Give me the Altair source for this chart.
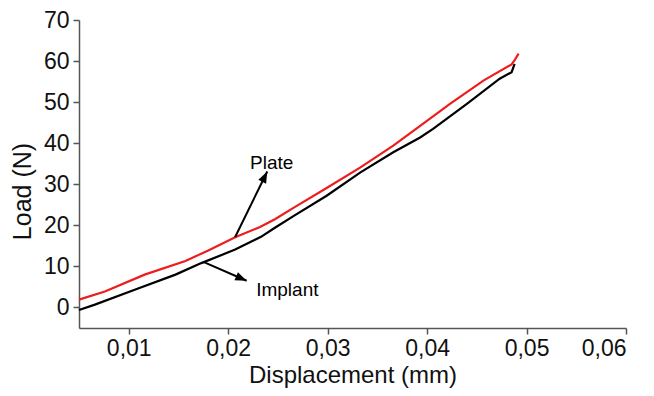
import altair as alt
import pandas as pd

# Plate (red) curve
plate_x = [0.0050, 0.0076, 0.0116, 0.0157, 0.0180, 0.0207, 0.0232, 0.0247, 0.0266, 0.0299, 0.0333,
           0.0366, 0.0393, 0.0423, 0.0457, 0.0485, 0.0488, 0.0492]
plate_y = [1.9, 3.9, 8.0, 11.3, 13.9, 17.1, 19.6, 21.5, 24.3, 29.1, 34.1,
           39.4, 44.2, 49.6, 55.3, 59.2, 60.2, 61.8]

# Implant (black) curve
implant_x = [0.0050, 0.0066, 0.0106, 0.0147, 0.0173, 0.0207, 0.0233, 0.0247, 0.0266, 0.0299, 0.0333,
             0.0366, 0.0393, 0.0406, 0.0440, 0.0473, 0.0485, 0.0488]
implant_y = [-0.6, 0.7, 4.3, 8.0, 10.8, 14.1, 17.2, 19.4, 22.3, 27.2, 32.9,
             37.8, 41.4, 43.5, 49.6, 55.7, 57.3, 59.3]

# Annotations
ann_labels = ["Plate", "Implant"]
ann_text_x = [0.02438, 0.02595]
ann_text_y = [35.1, 4.3]
arrow_x1 = [0.02069, 0.0175]
arrow_y1 = [17.1, 11.1]
arrow_x2 = [0.02393, 0.02186]
arrow_y2 = [33.1, 6.5]
arrow_angle = [26.3, 113.2]

x_ticks = [0.01, 0.02, 0.03, 0.04, 0.05, 0.06]
y_ticks = [0, 5, 10, 15, 20, 25, 30, 35, 40, 45, 50, 55, 60, 65, 70]

FONT = "Liberation Sans"

plate = pd.DataFrame({"x": plate_x, "y": plate_y, "order": range(len(plate_x))})
implant = pd.DataFrame({"x": implant_x, "y": implant_y, "order": range(len(implant_x))})
ann = pd.DataFrame({
    "label": ann_labels, "tx": ann_text_x, "ty": ann_text_y,
    "x1": arrow_x1, "y1": arrow_y1, "x2": arrow_x2, "y2": arrow_y2,
    "angle": arrow_angle,
})

xscale = alt.Scale(domain=[0.005, 0.06], nice=False, zero=False)
yscale = alt.Scale(domain=[-5, 70], nice=False, zero=False)

xaxis = alt.Axis(
    values=x_ticks,
    labelExpr="replace(format(datum.value, '.2f'), '.', ',')",
    title="Displacement (mm)",
    grid=False,
    tickSize=6,
    labelFontSize=23,
    labelPadding=3,
    titleFontSize=24,
    titleY=59,
    titleBaseline="bottom",
    titleAlign="center",
)
yaxis = alt.Axis(
    values=y_ticks,
    labelExpr="datum.value % 10 === 0 ? datum.label : ''",
    tickSize={"condition": {"test": "datum.value % 10 !== 0", "value": 3}, "value": 6},
    labelFontSize=23,
    labelPadding=4,
    title="Load (N)",
    titleFontSize=25,
    titleAngle=-90,
    titleX=-57,
    titleY=171,
    titleAlign="center",
    titleBaseline="middle",
    grid=False,
)

implant_line = alt.Chart(implant).mark_line(color="#000000", strokeWidth=2.2).encode(
    x=alt.X("x:Q", scale=xscale, axis=xaxis),
    y=alt.Y("y:Q", scale=yscale, axis=yaxis),
    order="order:Q",
)
plate_line = alt.Chart(plate).mark_line(color="#ee1c1c", strokeWidth=2.2).encode(
    x=alt.X("x:Q", scale=xscale),
    y=alt.Y("y:Q", scale=yscale),
    order="order:Q",
)

arrow_lines = alt.Chart(ann).mark_rule(color="black", strokeWidth=2).encode(
    x=alt.X("x1:Q", scale=xscale), y=alt.Y("y1:Q", scale=yscale),
    x2="x2:Q", y2="y2:Q",
)
arrow_heads = alt.Chart(ann).mark_point(
    shape="M0,0L-0.38,1L0.38,1Z", filled=True, color="black", opacity=1, size=520,
).encode(
    x=alt.X("x2:Q", scale=xscale), y=alt.Y("y2:Q", scale=yscale),
    angle=alt.Angle("angle:Q", scale=None),
)
labels = alt.Chart(ann).mark_text(font=FONT, fontSize=19, color="black").encode(
    x=alt.X("tx:Q", scale=xscale), y=alt.Y("ty:Q", scale=yscale),
    text="label:N",
)

chart = alt.layer(implant_line, plate_line, arrow_lines, arrow_heads, labels).properties(
    width=547, height=308,
    autosize=alt.AutoSizeParams(type="none"),
    padding={"left": 71, "top": 12, "right": 20, "bottom": 60},
).configure_view(stroke=None).configure_axis(
    domainColor="#555555", tickColor="#555555", domainWidth=1.5, tickWidth=1.5,
    labelFont=FONT, labelColor="#111111",
    titleFont=FONT, titleFontWeight="normal", titleColor="#111111",
)

chart.save("out.html", embed_options={"renderer": "svg", "actions": False})
